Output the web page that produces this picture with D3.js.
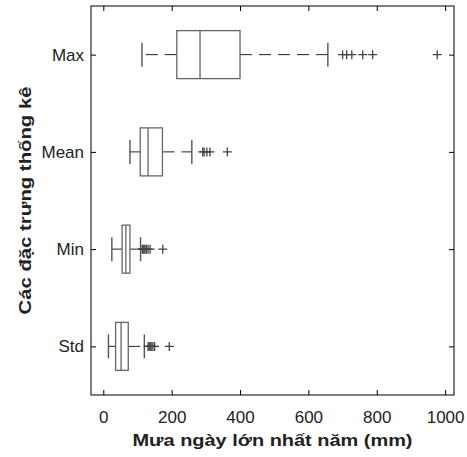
<!doctype html>
<html lang="vi">
<head>
  <meta charset="utf-8">
  <title>Boxplot</title>
  <script src="https://d3js.org/d3.v7.min.js"></script>
  <style>
    body { margin: 0; background: #fff; }
    text { font-family: "Liberation Sans", Arial, sans-serif; fill: #222; }
  </style>
</head>
<body>
<div class="chart-container"></div>
<script>
  // statistics on the y axis, values in mm
  const stats = ['Max', 'Mean', 'Min', 'Std'];
  const q1 = [215, 108, 55, 36];
  const median = [283, 131, 66, 52];
  const q3 = [400, 173, 78, 73];
  const whiskerLow = [113, 78, 25, 15];
  const whiskerHigh = [657, 259, 109, 120];
  const outliers = [
    [700, 712, 727, 759, 788, 977],
    [291, 295, 303, 312, 363],
    [114, 116, 119, 122, 126, 131, 137, 174],
    [131, 134, 137, 140, 145, 150, 193]
  ];
  const xTicks = [0, 200, 400, 600, 800, 1000];

  const width = 467;
  const height = 457;
  const margin = { top: 6, right: 13, bottom: 62, left: 91 };
  const plotW = width - margin.left - margin.right;
  const plotH = height - margin.top - margin.bottom;

  const svg = d3.select('.chart-container').append('svg')
    .attr('width', width)
    .attr('height', height);

  const x = d3.scaleLinear()
    .domain([-36, 1026])
    .range([margin.left, margin.left + plotW]);

  const y = d3.scalePoint()
    .domain(stats)
    .range([margin.top, margin.top + plotH])
    .padding(0.5);

  const boxHalf = 24;
  const capHalf = 12;
  const plusHalf = 4.5;

  // axes, ticks pointing inward
  const bottom = svg.append('g')
    .attr('transform', `translate(0, ${margin.top + plotH})`)
    .call(d3.axisBottom(x).tickValues(xTicks).tickFormat(d3.format('d'))
      .tickSizeInner(-5).tickSizeOuter(0).tickPadding(16));
  bottom.selectAll('text').style('font-size', '17px');

  svg.append('g')
    .attr('transform', `translate(0, ${margin.top})`)
    .call(d3.axisTop(x).tickValues(xTicks).tickSizeInner(-5).tickSizeOuter(0).tickFormat(''));

  const left = svg.append('g')
    .attr('transform', `translate(${margin.left}, 0)`)
    .call(d3.axisLeft(y).tickSizeInner(-5).tickSizeOuter(0).tickPadding(7));
  left.selectAll('text').style('font-size', '17px');

  svg.append('g')
    .attr('transform', `translate(${margin.left + plotW}, 0)`)
    .call(d3.axisRight(y).tickSizeInner(-5).tickSizeOuter(0).tickFormat(''));

  svg.selectAll('.domain').remove();
  svg.selectAll('.tick line').attr('stroke', '#000');

  svg.append('rect')
    .attr('x', margin.left)
    .attr('y', margin.top)
    .attr('width', plotW)
    .attr('height', plotH)
    .attr('fill', 'none')
    .attr('stroke', '#000')
    .attr('stroke-width', 1);

  const rows = stats.map((s, i) => ({
    name: s, q1: q1[i], med: median[i], q3: q3[i],
    lo: whiskerLow[i], hi: whiskerHigh[i], out: outliers[i]
  }));

  const g = svg.selectAll('g.box')
    .data(rows)
    .enter()
    .append('g')
    .attr('class', 'box');

  // whiskers, dashed from the box outward
  g.append('line')
    .attr('x1', d => x(d.q1)).attr('x2', d => x(d.lo))
    .attr('y1', d => y(d.name)).attr('y2', d => y(d.name))
    .attr('stroke', '#222').attr('stroke-dasharray', '12,7');
  g.append('line')
    .attr('x1', d => x(d.q3)).attr('x2', d => x(d.hi))
    .attr('y1', d => y(d.name)).attr('y2', d => y(d.name))
    .attr('stroke', '#222').attr('stroke-dasharray', '12,7');

  // whisker caps
  g.selectAll('line.cap')
    .data(d => [d.lo, d.hi].map(v => ({ v, name: d.name })))
    .enter()
    .append('line')
    .attr('class', 'cap')
    .attr('x1', d => x(d.v)).attr('x2', d => x(d.v))
    .attr('y1', d => y(d.name) - capHalf).attr('y2', d => y(d.name) + capHalf)
    .attr('stroke', '#555').attr('stroke-width', 1.4);

  g.append('rect')
    .attr('x', d => x(d.q1))
    .attr('width', d => x(d.q3) - x(d.q1))
    .attr('y', d => y(d.name) - boxHalf)
    .attr('height', boxHalf * 2)
    .attr('fill', 'none')
    .attr('stroke', '#666')
    .attr('stroke-width', 1.3);

  g.append('line')
    .attr('x1', d => x(d.med)).attr('x2', d => x(d.med))
    .attr('y1', d => y(d.name) - boxHalf).attr('y2', d => y(d.name) + boxHalf)
    .attr('stroke', '#666').attr('stroke-width', 1.3);

  // outliers as plus markers
  g.selectAll('path.outlier')
    .data(d => d.out.map(v => ({ v, name: d.name })))
    .enter()
    .append('path')
    .attr('class', 'outlier')
    .attr('d', d => {
      const cx = x(d.v), cy = y(d.name);
      return `M${cx - plusHalf},${cy}H${cx + plusHalf}M${cx},${cy - plusHalf}V${cy + plusHalf}`;
    })
    .attr('stroke', '#444')
    .attr('stroke-width', 1.3)
    .attr('fill', 'none');

  // titles
  svg.append('text')
    .attr('x', margin.left + plotW / 2)
    .attr('y', 446)
    .attr('text-anchor', 'middle')
    .attr('textLength', 280)
    .attr('lengthAdjust', 'spacingAndGlyphs')
    .style('font-size', '17px')
    .style('font-weight', 'bold')
    .text('Mưa ngày lớn nhất năm (mm)');

  svg.append('text')
    .attr('transform', `translate(31, ${margin.top + plotH / 2}) rotate(-90)`)
    .attr('text-anchor', 'middle')
    .attr('textLength', 228)
    .attr('lengthAdjust', 'spacingAndGlyphs')
    .style('font-size', '17px')
    .style('font-weight', 'bold')
    .text('Các đặc trưng thống kê');
</script>
</body>
</html>
